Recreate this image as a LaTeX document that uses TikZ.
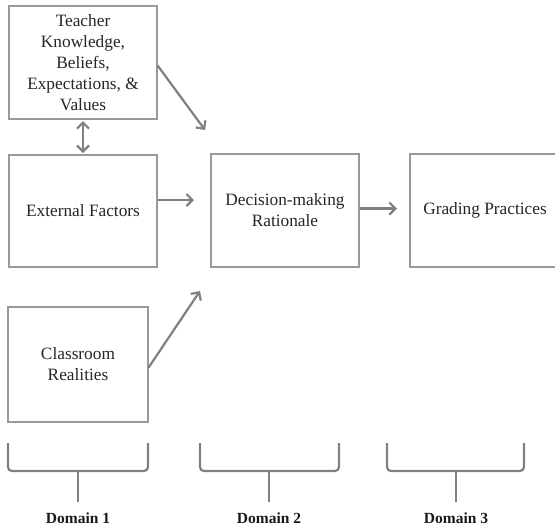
\documentclass[tikz,border=0pt]{standalone}
\usepackage{fontspec}
\setmainfont{Liberation Serif}
\usetikzlibrary{arrows.meta}
\begin{document}
\begin{tikzpicture}[x=1pt,y=-1pt,
  box/.style={draw=black!40,line width=1.2pt,fill=white,align=center,font=\fontsize{17.3}{21}\selectfont,text=black!85},
  conn/.style={draw=black!50,line width=2.2pt,-{Straight Barb[length=6pt,width=12pt]}},
  brace/.style={draw=black!50,line width=2.2pt,rounded corners=4pt},
  dom/.style={font=\bfseries\fontsize{15.5}{17}\selectfont,text=black!90}]
\useasboundingbox (0,0) rectangle (555,528);
\node[box,minimum width=148pt,minimum height=113pt] (teach) at (83,62.5) {Teacher\\Knowledge,\\Beliefs,\\Expectations, \&\\Values};
\node[box,minimum width=148pt,minimum height=112pt] (ext) at (83,211) {External Factors};
\node[box,minimum width=148pt,minimum height=113pt] (dec) at (285,210.5) {Decision-making\\Rationale};
\node[box,minimum width=150pt,minimum height=113pt] (grade) at (485,210.5) {Grading Practices};
\node[box,minimum width=140pt,minimum height=115pt] (class) at (78,364.5) {Classroom\\Realities};
\coordinate (t1) at (205,130);
\coordinate (c1) at (200,291);
\draw[conn] (teach.east) ++(0,3) -- (t1);
\draw[conn,{Straight Barb[length=6pt,width=12pt]}-{Straight Barb[length=6pt,width=12pt]}] (83,121) -- (83,153);
\draw[conn] (ext.east) ++(0,-11) coordinate (e1) -- (194,200);
\draw[conn] (dec.east) ++(0,-2) -- (397,208.5);
\draw[conn] (class.east) ++(0,3) -- (c1);
% braces
\draw[brace] (8,443) -- (8,471) -- (148,471) -- (148,443);
\draw[brace] (78,471) -- (78,502);
\draw[brace] (200,443) -- (200,471) -- (339,471) -- (339,443);
\draw[brace] (269,471) -- (269,502);
\draw[brace] (387,443) -- (387,471) -- (524,471) -- (524,443);
\draw[brace] (456,471) -- (456,502);
\node[dom] (d1) at (78,518) {Domain 1};
\node[dom] (d2) at (269,518) {Domain 2};
\node[dom] (d3) at (456,518) {Domain 3};
\end{tikzpicture}
\end{document}
